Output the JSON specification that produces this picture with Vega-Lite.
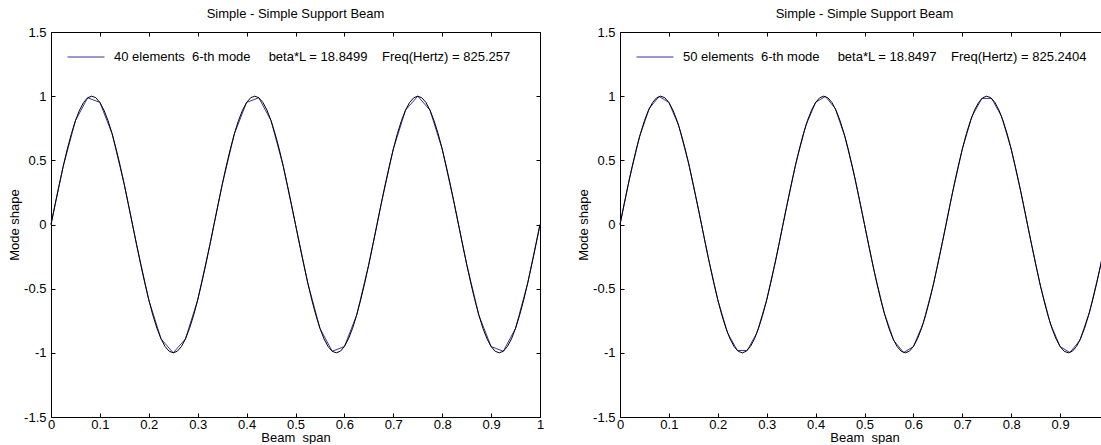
{
  "$schema": "https://vega.github.io/schema/vega-lite/v6.json",
  "padding": {"left": 8, "top": 8, "right": 0, "bottom": 0},
  "background": "white",
  "spacing": 33,
  "config": {
    "font": "Liberation Sans",
    "view": {"stroke": null},
    "axis": {
      "grid": false, "domainColor": "black", "tickColor": "black", "labelColor": "black", "titleColor": "black",
      "labelFont": "Liberation Sans", "titleFont": "Liberation Sans", "labelFontSize": 13, "titleFontSize": 13,
      "titleFontWeight": "normal", "tickSize": -4, "domainWidth": 1, "tickWidth": 1,
      "labelFlush": false, "labelOverlap": false, "labelExpr": "'' + datum.value"
    },
    "axisX": {"labelPadding": 5},
    "axisY": {"labelPadding": 9},
    "title": {"fontSize": 13, "fontWeight": "normal", "color": "black", "offset": 5, "font": "Liberation Sans"},
    "legend": {
      "orient": "none", "legendX": 16, "legendY": 6, "title": null, "labelFontSize": 13, "labelFont": "Liberation Sans",
      "labelLimit": 1000, "symbolType": "stroke", "symbolSize": 1369, "symbolStrokeWidth": 1, "labelOffset": 9,
      "padding": 0, "labelColor": "black"
    }
  },
  "datasets": {
    "exact": [
      {"x":0,"y":0},{"x":0.0083,"y":0.1564},{"x":0.0167,"y":0.309},{"x":0.025,"y":0.454},{"x":0.0333,"y":0.5878},{"x":0.0417,"y":0.7071},{"x":0.05,"y":0.809},{"x":0.0583,"y":0.891},{"x":0.0667,"y":0.9511},{"x":0.075,"y":0.9877},{"x":0.0833,"y":1},{"x":0.0917,"y":0.9877},{"x":0.1,"y":0.9511},{"x":0.1083,"y":0.891},{"x":0.1167,"y":0.809},{"x":0.125,"y":0.7071},{"x":0.1333,"y":0.5878},{"x":0.1417,"y":0.454},{"x":0.15,"y":0.309},{"x":0.1583,"y":0.1564},{"x":0.1667,"y":0},{"x":0.175,"y":-0.1564},{"x":0.1833,"y":-0.309},{"x":0.1917,"y":-0.454},{"x":0.2,"y":-0.5878},{"x":0.2083,"y":-0.7071},{"x":0.2167,"y":-0.809},{"x":0.225,"y":-0.891},{"x":0.2333,"y":-0.9511},{"x":0.2417,"y":-0.9877},{"x":0.25,"y":-1},{"x":0.2583,"y":-0.9877},{"x":0.2667,"y":-0.9511},{"x":0.275,"y":-0.891},{"x":0.2833,"y":-0.809},{"x":0.2917,"y":-0.7071},{"x":0.3,"y":-0.5878},{"x":0.3083,"y":-0.454},{"x":0.3167,"y":-0.309},{"x":0.325,"y":-0.1564},
      {"x":0.3333,"y":0},{"x":0.3417,"y":0.1564},{"x":0.35,"y":0.309},{"x":0.3583,"y":0.454},{"x":0.3667,"y":0.5878},{"x":0.375,"y":0.7071},{"x":0.3833,"y":0.809},{"x":0.3917,"y":0.891},{"x":0.4,"y":0.9511},{"x":0.4083,"y":0.9877},{"x":0.4167,"y":1},{"x":0.425,"y":0.9877},{"x":0.4333,"y":0.9511},{"x":0.4417,"y":0.891},{"x":0.45,"y":0.809},{"x":0.4583,"y":0.7071},{"x":0.4667,"y":0.5878},{"x":0.475,"y":0.454},{"x":0.4833,"y":0.309},{"x":0.4917,"y":0.1564},{"x":0.5,"y":0},{"x":0.5083,"y":-0.1564},{"x":0.5167,"y":-0.309},{"x":0.525,"y":-0.454},{"x":0.5333,"y":-0.5878},{"x":0.5417,"y":-0.7071},{"x":0.55,"y":-0.809},{"x":0.5583,"y":-0.891},{"x":0.5667,"y":-0.9511},{"x":0.575,"y":-0.9877},{"x":0.5833,"y":-1},{"x":0.5917,"y":-0.9877},{"x":0.6,"y":-0.9511},{"x":0.6083,"y":-0.891},{"x":0.6167,"y":-0.809},{"x":0.625,"y":-0.7071},{"x":0.6333,"y":-0.5878},{"x":0.6417,"y":-0.454},{"x":0.65,"y":-0.309},{"x":0.6583,"y":-0.1564},
      {"x":0.6667,"y":0},{"x":0.675,"y":0.1564},{"x":0.6833,"y":0.309},{"x":0.6917,"y":0.454},{"x":0.7,"y":0.5878},{"x":0.7083,"y":0.7071},{"x":0.7167,"y":0.809},{"x":0.725,"y":0.891},{"x":0.7333,"y":0.9511},{"x":0.7417,"y":0.9877},{"x":0.75,"y":1},{"x":0.7583,"y":0.9877},{"x":0.7667,"y":0.9511},{"x":0.775,"y":0.891},{"x":0.7833,"y":0.809},{"x":0.7917,"y":0.7071},{"x":0.8,"y":0.5878},{"x":0.8083,"y":0.454},{"x":0.8167,"y":0.309},{"x":0.825,"y":0.1564},{"x":0.8333,"y":0},{"x":0.8417,"y":-0.1564},{"x":0.85,"y":-0.309},{"x":0.8583,"y":-0.454},{"x":0.8667,"y":-0.5878},{"x":0.875,"y":-0.7071},{"x":0.8833,"y":-0.809},{"x":0.8917,"y":-0.891},{"x":0.9,"y":-0.9511},{"x":0.9083,"y":-0.9877},{"x":0.9167,"y":-1},{"x":0.925,"y":-0.9877},{"x":0.9333,"y":-0.9511},{"x":0.9417,"y":-0.891},{"x":0.95,"y":-0.809},{"x":0.9583,"y":-0.7071},{"x":0.9667,"y":-0.5878},{"x":0.975,"y":-0.454},{"x":0.9833,"y":-0.309},{"x":0.9917,"y":-0.1564},{"x":1,"y":0}
    ],
    "fe40": [
      {"x":0,"y":0},{"x":0.025,"y":0.454},{"x":0.05,"y":0.809},{"x":0.075,"y":0.9877},{"x":0.1,"y":0.9511},{"x":0.125,"y":0.7071},{"x":0.15,"y":0.309},{"x":0.175,"y":-0.1564},{"x":0.2,"y":-0.5878},{"x":0.225,"y":-0.891},{"x":0.25,"y":-1},
      {"x":0.275,"y":-0.891},{"x":0.3,"y":-0.5878},{"x":0.325,"y":-0.1564},{"x":0.35,"y":0.309},{"x":0.375,"y":0.7071},{"x":0.4,"y":0.9511},{"x":0.425,"y":0.9877},{"x":0.45,"y":0.809},{"x":0.475,"y":0.454},{"x":0.5,"y":0},
      {"x":0.525,"y":-0.454},{"x":0.55,"y":-0.809},{"x":0.575,"y":-0.9877},{"x":0.6,"y":-0.9511},{"x":0.625,"y":-0.7071},{"x":0.65,"y":-0.309},{"x":0.675,"y":0.1564},{"x":0.7,"y":0.5878},{"x":0.725,"y":0.891},{"x":0.75,"y":1},
      {"x":0.775,"y":0.891},{"x":0.8,"y":0.5878},{"x":0.825,"y":0.1564},{"x":0.85,"y":-0.309},{"x":0.875,"y":-0.7071},{"x":0.9,"y":-0.9511},{"x":0.925,"y":-0.9877},{"x":0.95,"y":-0.809},{"x":0.975,"y":-0.454},{"x":1,"y":0}
    ],
    "fe50": [
      {"x":0,"y":0},{"x":0.02,"y":0.3681},{"x":0.04,"y":0.6845},{"x":0.06,"y":0.9048},{"x":0.08,"y":0.998},{"x":0.1,"y":0.9511},{"x":0.12,"y":0.7705},{"x":0.14,"y":0.4818},{"x":0.16,"y":0.1253},{"x":0.18,"y":-0.2487},
      {"x":0.2,"y":-0.5878},{"x":0.22,"y":-0.8443},{"x":0.24,"y":-0.9823},{"x":0.26,"y":-0.9823},{"x":0.28,"y":-0.8443},{"x":0.3,"y":-0.5878},{"x":0.32,"y":-0.2487},{"x":0.34,"y":0.1253},{"x":0.36,"y":0.4818},{"x":0.38,"y":0.7705},
      {"x":0.4,"y":0.9511},{"x":0.42,"y":0.998},{"x":0.44,"y":0.9048},{"x":0.46,"y":0.6845},{"x":0.48,"y":0.3681},{"x":0.5,"y":0},{"x":0.52,"y":-0.3681},{"x":0.54,"y":-0.6845},{"x":0.56,"y":-0.9048},{"x":0.58,"y":-0.998},
      {"x":0.6,"y":-0.9511},{"x":0.62,"y":-0.7705},{"x":0.64,"y":-0.4818},{"x":0.66,"y":-0.1253},{"x":0.68,"y":0.2487},{"x":0.7,"y":0.5878},{"x":0.72,"y":0.8443},{"x":0.74,"y":0.9823},{"x":0.76,"y":0.9823},{"x":0.78,"y":0.8443},
      {"x":0.8,"y":0.5878},{"x":0.82,"y":0.2487},{"x":0.84,"y":-0.1253},{"x":0.86,"y":-0.4818},{"x":0.88,"y":-0.7705},{"x":0.9,"y":-0.9511},{"x":0.92,"y":-0.998},{"x":0.94,"y":-0.9048},{"x":0.96,"y":-0.6845},{"x":0.98,"y":-0.3681},{"x":1,"y":0}
    ]
  },
  "hconcat": [
    {
      "width": 489, "height": 385,
      "title": "Simple - Simple Support Beam",
      "layer": [
        {
          "data": {"name": "fe40"},
          "mark": {"type": "line", "strokeWidth": 1},
          "encoding": {
            "x": {"field": "x", "type": "quantitative", "scale": {"domain": [0, 1], "nice": false, "zero": false},
                  "axis": {"orient": "top", "values": [0,0.1,0.2,0.3,0.4,0.5,0.6,0.7,0.8,0.9,1], "labels": false, "title": null}},
            "y": {"field": "y", "type": "quantitative", "scale": {"domain": [-1.5, 1.5], "nice": false, "zero": false},
                  "axis": {"orient": "right", "values": [-1.5,-1,-0.5,0,0.5,1,1.5], "labels": false, "title": null}},
            "color": {"datum": "40 elements\u00a0\u00a06-th mode\u00a0\u00a0\u00a0\u00a0\u00a0beta*L = 18.8499\u00a0\u00a0\u00a0\u00a0Freq(Hertz) = 825.257",
                      "type": "nominal", "scale": {"range": ["#3a32a0"]}}
          }
        },
        {
          "data": {"name": "exact"},
          "mark": {"type": "line", "color": "black", "strokeWidth": 1},
          "encoding": {
            "x": {"field": "x", "type": "quantitative",
                  "axis": {"orient": "bottom", "values": [0,0.1,0.2,0.3,0.4,0.5,0.6,0.7,0.8,0.9,1], "title": "Beam\u00a0\u00a0span", "titlePadding": 0}},
            "y": {"field": "y", "type": "quantitative",
                  "axis": {"orient": "left", "values": [-1.5,-1,-0.5,0,0.5,1,1.5], "title": "Mode shape", "titlePadding": 2}}
          }
        }
      ]
    },
    {
      "width": 489, "height": 385,
      "title": "Simple - Simple Support Beam",
      "layer": [
        {
          "data": {"name": "fe50"},
          "mark": {"type": "line", "strokeWidth": 1},
          "encoding": {
            "x": {"field": "x", "type": "quantitative", "scale": {"domain": [0, 1], "nice": false, "zero": false},
                  "axis": {"orient": "top", "values": [0,0.1,0.2,0.3,0.4,0.5,0.6,0.7,0.8,0.9,1], "labels": false, "title": null}},
            "y": {"field": "y", "type": "quantitative", "scale": {"domain": [-1.5, 1.5], "nice": false, "zero": false},
                  "axis": {"orient": "right", "values": [-1.5,-1,-0.5,0,0.5,1,1.5], "labels": false, "title": null}},
            "color": {"datum": "50 elements\u00a0\u00a06-th mode\u00a0\u00a0\u00a0\u00a0\u00a0beta*L = 18.8497\u00a0\u00a0\u00a0\u00a0Freq(Hertz) = 825.2404",
                      "type": "nominal", "scale": {"range": ["#3a32a0"]}}
          }
        },
        {
          "data": {"name": "exact"},
          "mark": {"type": "line", "color": "black", "strokeWidth": 1},
          "encoding": {
            "x": {"field": "x", "type": "quantitative",
                  "axis": {"orient": "bottom", "values": [0,0.1,0.2,0.3,0.4,0.5,0.6,0.7,0.8,0.9,1], "title": "Beam\u00a0\u00a0span", "titlePadding": 0}},
            "y": {"field": "y", "type": "quantitative",
                  "axis": {"orient": "left", "values": [-1.5,-1,-0.5,0,0.5,1,1.5], "title": "Mode shape", "titlePadding": 2}}
          }
        }
      ]
    }
  ],
  "resolve": {"scale": {"color": "independent"}, "legend": {"color": "independent"}}
}
